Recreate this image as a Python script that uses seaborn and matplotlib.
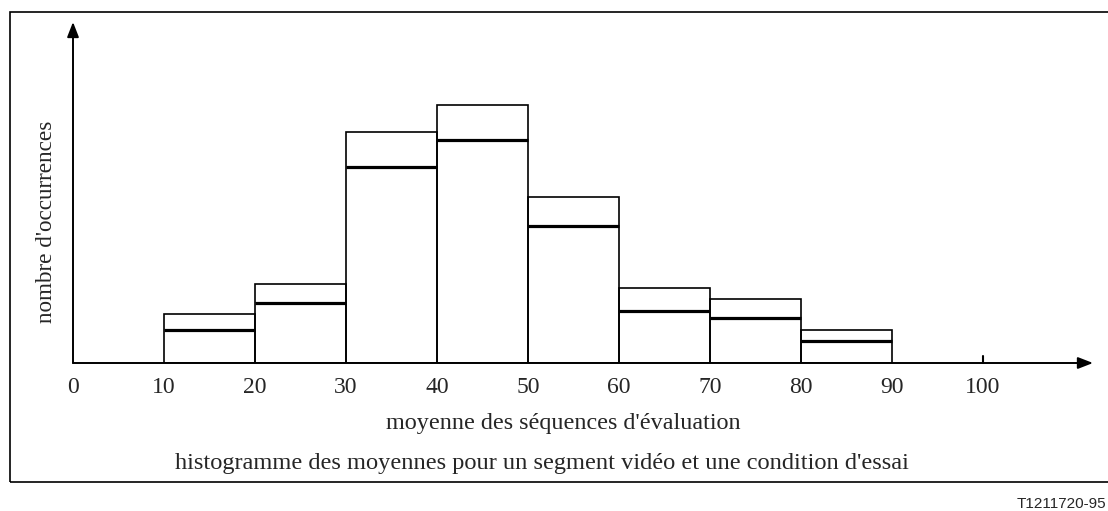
import matplotlib
matplotlib.use("Agg")
import matplotlib.pyplot as plt
from matplotlib.patches import Rectangle
import numpy as np
import seaborn as sns

# bins of the histogram (score classes)
bin_edges = [10, 20, 30, 40, 50, 60, 70, 80, 90]
# occurrences, outer outline and inner (thick) level
outer_counts = [49, 79, 231, 258, 166, 75, 64, 33]
inner_counts = [33, 60, 196, 223, 137, 52, 45, 22]
tick_values = [0, 10, 20, 30, 40, 50, 60, 70, 80, 90, 100]

sns.set_style("white")
plt.rcParams['font.family'] = ['Liberation Serif', 'DejaVu Serif']

fig = plt.figure(figsize=(11.08, 5.11), dpi=100)
ax = fig.add_axes([73 / 1108, 1 - 363 / 511, 1020 / 1108, 341 / 511])

centers = [(a + b) / 2 for a, b in zip(bin_edges[:-1], bin_edges[1:])]
sns.histplot(x=centers, weights=outer_counts, bins=bin_edges, fill=False,
             color='black', linewidth=1.2, ax=ax)
ax.hlines(inner_counts, bin_edges[:-1], bin_edges[1:], colors='black', lw=2.3)

ax.set_xlim(0, 1020 / 9.1)
ax.set_ylim(0, 341)
for s in ax.spines.values():
    s.set_visible(False)
ax.set_yticks([])
ax.set_xticks(tick_values)
ax.set_xticklabels([str(t) for t in tick_values], fontsize=17)
ax.tick_params(axis='x', length=0, pad=10)
ax.set_xlabel('')
ax.set_ylabel('')

# axes drawn as arrows
arrow = dict(arrowstyle='-|>,head_length=0.9,head_width=0.35', color='black',
             lw=1.4, shrinkA=0, shrinkB=0)
ax.annotate('', xy=(1, 0), xytext=(0, 0), xycoords='axes fraction', arrowprops=arrow)
ax.annotate('', xy=(0, 1), xytext=(0, 0), xycoords='axes fraction', arrowprops=arrow)
ax.plot([100, 100], [0, 7], color='black', lw=1.5, clip_on=False)

fig.text(47 / 1108, 1 - 222 / 511, "nombre d'occurrences", rotation=90,
         ha='center', va='center', fontsize=16.7)
fig.text(563 / 1108, 1 - 423 / 511, "moyenne des séquences d'évaluation",
         ha='center', va='center', fontsize=17.4)
fig.text(542 / 1108, 1 - 463 / 511,
         "histogramme des moyennes pour un segment vidéo et une condition d'essai",
         ha='center', va='center', fontsize=17.6)
fig.text(1106 / 1108, 1 - 504 / 511, "T1211720-95", ha='right', va='center',
         fontsize=11, family=['Liberation Sans', 'DejaVu Sans'])

fig.patches.append(Rectangle((10 / 1108, 1 - 482 / 511), 1.2, 470 / 511,
                             transform=fig.transFigure, fill=False,
                             edgecolor='black', lw=1.2))

fig.savefig('out.png', dpi=100)
